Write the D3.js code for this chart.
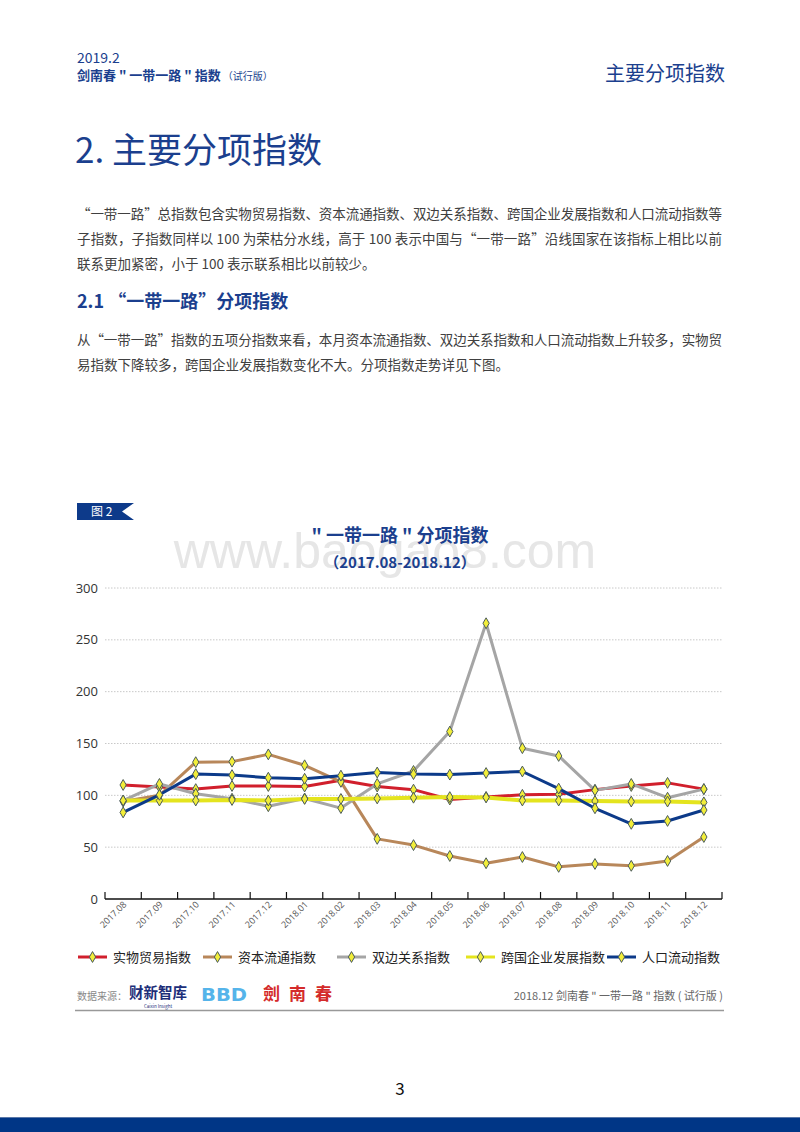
<!DOCTYPE html>
<html><head><meta charset="utf-8">
<script src="https://cdn.jsdelivr.net/npm/d3@7"></script>
<style>
html,body{margin:0;padding:0;background:#fff;}
svg{display:block;font-family:"Noto Sans CJK SC","Noto Sans",sans-serif;}
</style></head>
<body>
<svg id="page" width="800" height="1132"></svg>
<script>
const categories = ["2017.08","2017.09","2017.10","2017.11","2017.12","2018.01","2018.02","2018.03","2018.04","2018.05","2018.06","2018.07","2018.08","2018.09","2018.10","2018.11","2018.12"];
const seriesNames = ["实物贸易指数","资本流通指数","双边关系指数","跨国企业发展指数","人口流动指数"];
const tradeValues   = [110,108,106,109,109,108.5,114.5,108.5,105.5,96,98.5,100.5,101,105.5,109,112,106];
const capitalValues = [94,100,132,132.5,139.5,129,113,58,52,41.5,34.5,40.5,31,33.8,32,36.7,59.8];
const bilateralValues = [95,111,101.5,96.8,89.5,97,87.7,111,123.5,161.5,266,145.5,138,104.8,111,97.7,106];
const enterpriseValues = [95,95,95,95.5,95,96.5,96.5,97,97.7,98.3,98,95,95,94.5,94,94,93.2];
const populationValues = [83.5,100.5,120.5,119.5,117,116,119,122,120.5,120,121.5,123,106.5,87.5,72.5,75.3,85.8];
const yTicks = [0,50,100,150,200,250,300];
const seriesColors = ["#d11f2c","#b8875a","#a5a5a5","#e4e41e","#0c3a89"];

const allSeries = [tradeValues, capitalValues, bilateralValues, enterpriseValues, populationValues];
const svg = d3.select("#page");
const blue = "#1b3f8e";

// ---------- header ----------
svg.append("text").attr("x",77).attr("y",63).attr("font-size",14).attr("fill",blue).text("2019.2");
const h2 = svg.append("text").attr("x",77).attr("y",80).attr("fill",blue);
h2.append("tspan").attr("font-size",13).attr("font-weight","bold").text("剑南春 \" 一带一路 \" 指数");
h2.append("tspan").attr("font-size",10).attr("dx",2).text("（试行版）");
svg.append("text").attr("x",725).attr("y",81).attr("text-anchor","end").attr("font-size",20).attr("fill",blue).text("主要分项指数");

svg.append("text").attr("x",75).attr("y",163).attr("font-size",35).attr("fill",blue).text("2.  主要分项指数");

const body = "#404040";
const p1 = ["“一带一路”总指数包含实物贸易指数、资本流通指数、双边关系指数、跨国企业发展指数和人口流动指数等",
            "子指数，子指数同样以 100 为荣枯分水线，高于 100 表示中国与“一带一路”沿线国家在该指标上相比以前",
            "联系更加紧密，小于 100 表示联系相比以前较少。"];
p1.forEach((t,i)=>{
  const el = svg.append("text").attr("x",77).attr("y",219+i*25).attr("font-size",13.5).attr("fill",body).text(t);
  if(i<2) el.attr("textLength",645).attr("lengthAdjust","spacing");
});
svg.append("text").attr("x",77).attr("y",308).attr("font-size",18).attr("font-weight","bold").attr("fill",blue).text("2.1 “一带一路”分项指数");
const p2 = ["从“一带一路”指数的五项分指数来看，本月资本流通指数、双边关系指数和人口流动指数上升较多，实物贸",
            "易指数下降较多，跨国企业发展指数变化不大。分项指数走势详见下图。"];
p2.forEach((t,i)=>{
  const el = svg.append("text").attr("x",77).attr("y",345+i*25).attr("font-size",13.5).attr("fill",body).text(t);
  if(i<1) el.attr("textLength",645).attr("lengthAdjust","spacing");
});

// ---------- figure label ----------
svg.append("path").attr("d","M77,503 L134,503 L122,511.5 L134,520 L77,520 Z").attr("fill","#0d3a8a");
svg.append("text").attr("x",91).attr("y",516).attr("font-size",12).attr("fill","#fff").text("图 2");

// watermark (sits behind the chart titles, as in the reference)
svg.append("text").attr("x",385).attr("y",568).attr("text-anchor","middle").attr("font-size",50)
  .attr("font-family","'Liberation Sans',Arial,sans-serif").attr("fill","#e6e6e6").text("www.baogao8.com");

// chart titles
svg.append("text").attr("x",400).attr("y",542).attr("text-anchor","middle").attr("font-size",18).attr("font-weight","bold").attr("fill",blue).text("\" 一带一路 \" 分项指数");
svg.append("text").attr("x",400).attr("y",568).attr("text-anchor","middle").attr("font-size",15).attr("font-weight","bold").attr("fill",blue).text("（2017.08-2018.12）");

// ---------- chart ----------
const x = d3.scaleBand().domain(categories).range([105,722]).padding(0);
const y = d3.scaleLinear().domain([0,300]).range([899,588]);
const cx = d => x(d) + x.bandwidth()/2;

// gridlines
svg.append("g").selectAll("line").data(yTicks.filter(v=>v>0)).join("line")
  .attr("x1",105).attr("x2",722).attr("y1",d=>y(d)).attr("y2",d=>y(d))
  .attr("stroke","#c8c8c8").attr("stroke-width",1).attr("stroke-dasharray","1.5,1.5");

// y labels
svg.append("g").selectAll("text").data(yTicks).join("text")
  .attr("x",98).attr("y",d=>y(d)+4.5).attr("text-anchor","end").attr("font-size",13)
  .attr("font-family","'Open Sans','Noto Sans',sans-serif").attr("fill","#333").text(d=>d);

// x axis
const xAxis = svg.append("g").attr("transform","translate(0,899)");
xAxis.append("line").attr("x1",105).attr("x2",722).attr("stroke","#111").attr("stroke-width",1.5);
const boundaries = categories.map(c=>x(c)).concat([722]);
xAxis.selectAll("line.tk").data(boundaries).join("line").attr("class","tk")
  .attr("x1",d=>d).attr("x2",d=>d).attr("y1",-7).attr("y2",0).attr("stroke","#111").attr("stroke-width",1.2);
xAxis.selectAll("text").data(categories).join("text")
  .attr("transform",d=>`translate(${cx(d)+4},6) rotate(-45)`)
  .attr("text-anchor","end").attr("font-size",9).attr("fill","#555")
  .attr("font-family","'Open Sans','Noto Sans',sans-serif").text(d=>d);

// lines
const line = d3.line().x((d,i)=>cx(categories[i])).y(d=>y(d));
const diamond = d3.symbol().type(d3.symbolDiamond).size(34);
const order = [0,1,2,3,4];
order.forEach(si=>{
  svg.append("path").datum(allSeries[si]).attr("d",line).attr("fill","none")
    .attr("stroke",seriesColors[si]).attr("stroke-width",si===3?4:3).attr("stroke-linejoin","round");
});
order.forEach(si=>{
  svg.append("g").selectAll("path").data(allSeries[si]).join("path")
    .attr("d",diamond).attr("transform",(d,i)=>`translate(${cx(categories[i])},${y(d)})`)
    .attr("fill","#f2ee3a").attr("stroke","#4b5b5b").attr("stroke-width",1);
});

// legend
const legendX = [78,203,337,466,607];
const legend = svg.append("g");
seriesNames.forEach((n,i)=>{
  const lx = legendX[i], ly = 957;
  legend.append("line").attr("x1",lx).attr("x2",lx+29).attr("y1",ly).attr("y2",ly)
    .attr("stroke",seriesColors[i]).attr("stroke-width",3);
  legend.append("path").attr("d",diamond).attr("transform",`translate(${lx+14.5},${ly})`)
    .attr("fill","#f2ee3a").attr("stroke","#4b5b5b").attr("stroke-width",1);
  legend.append("text").attr("x",lx+35).attr("y",ly+5).attr("font-size",13).attr("fill","#222").text(n);
});

// source line
svg.append("text").attr("x",77).attr("y",1000).attr("font-size",10).attr("fill","#888").text("数据来源：");
svg.append("text").attr("x",129).attr("y",998).attr("font-size",15).attr("font-weight","bold").attr("fill","#1d2f7a")
  .attr("textLength",58).attr("lengthAdjust","spacingAndGlyphs").text("财新智库");
svg.append("text").attr("x",158).attr("y",1007.5).attr("text-anchor","middle").attr("font-size",4.5).attr("fill","#1d2f7a").text("Caixin Insight");
svg.append("text").attr("x",201).attr("y",1001).attr("font-size",18).attr("font-weight","bold").attr("fill","#55b4ea")
  .attr("font-family","'DejaVu Sans',sans-serif").attr("textLength",46).attr("lengthAdjust","spacingAndGlyphs").text("BBD");
svg.append("text").attr("x",263).attr("y",1000).attr("font-size",17).attr("font-weight","bold").attr("fill","#d42a2a")
  .attr("textLength",69).attr("lengthAdjust","spacing").text("劍南春");
svg.append("text").attr("x",723).attr("y",1000).attr("text-anchor","end").attr("font-size",11).attr("fill","#666")
  .text("2018.12  剑南春 \" 一带一路 \" 指数 ( 试行版 )");
svg.append("line").attr("x1",75).attr("x2",724).attr("y1",1010.5).attr("y2",1010.5).attr("stroke","#999").attr("stroke-width",1.5);

// page number & footer bar
svg.append("text").attr("x",400).attr("y",1095).attr("text-anchor","middle").attr("font-size",17).attr("fill","#111").text("3");
svg.append("rect").attr("x",0).attr("y",1117).attr("width",800).attr("height",15).attr("fill","#003686");
svg.append("rect").attr("x",0).attr("y",1117).attr("width",800).attr("height",1).attr("fill","#5a78a8");
</script>
</body></html>
